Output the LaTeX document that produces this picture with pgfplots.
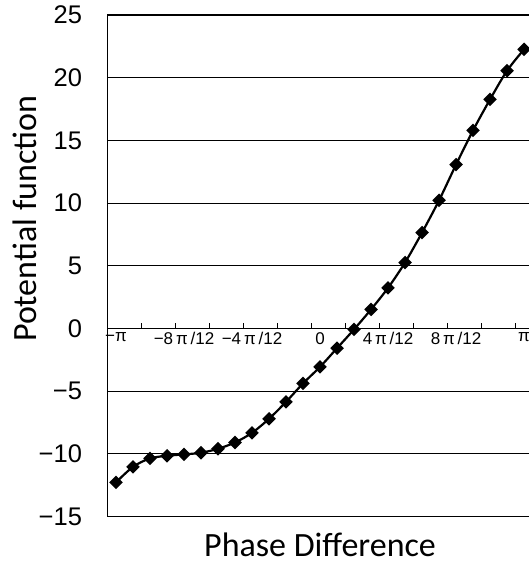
\documentclass[border=0pt]{standalone}
\usepackage{fontspec}
\setmainfont{Liberation Sans}
\newfontfamily\calib{Carlito}
\usepackage{pgfplots}
\pgfplotsset{compat=1.18}
\begin{document}
\begin{tikzpicture}
\begin{axis}[
  scale only axis, width=421.5pt, height=501.6pt,
  xmin=-0.5, xmax=24.29, ymin=-15, ymax=25,
  clip=false,
  axis x line=middle, axis y line=left,
  x axis line style={-, line width=1pt},
  y axis line style={-, line width=1.3pt},
  tick align=inside, major tick length=5pt,
  tick style={black, line width=1pt},
  xtick={1.5,3.5,...,23.5},
  xticklabels={},
  extra x ticks={0,4,...,24},
  extra x tick labels={−π, −8\,π\,/12, −4\,π\,/12, 0, 4\,π\,/12, 8\,π\,/12, π},
  extra x tick style={major tick length=0pt, grid=none},
  xticklabel style={font=\fontsize{17}{17}\selectfont, anchor=north, yshift=-0.5pt},
  ytick={-15,-10,...,25},
  yticklabels={−15,−10,−5,0,5,10,15,20,25},
  yticklabel style={font=\fontsize{25.5}{25.5}\selectfont, xshift=-22pt},
  ymajorgrids, grid style={black, line width=0.8pt},
  xlabel={Phase Difference},
  xlabel style={at={(axis cs:12,-18.19)}, anchor=base, font=\calib\fontsize{34}{34}\selectfont},
  ylabel={Potential function},
  ylabel style={at={(axis cs:-4.647,8.75)}, anchor=base, rotate=0, font=\calib\fontsize{34}{34}\selectfont},
]
\addplot[black, line width=2.2pt, smooth, mark=square*, mark size=3.7pt, mark options={rotate=45, solid, fill=black}]
coordinates {
(0,-12.27) (1,-11.03) (2,-10.36) (3,-10.15) (4,-10.04) (5,-9.91) (6,-9.59)
(7,-9.09) (8,-8.32) (9,-7.20) (10,-5.85) (11,-4.38) (12,-3.06) (13,-1.57)
(14,-0.07) (15,1.52) (16,3.24) (17,5.26) (18,7.65) (19,10.22) (20,13.07)
(21,15.80) (22,18.27) (23,20.56) (24,22.26)
};
\draw[line width=1.3pt] (axis cs:-0.5,25) -- (axis cs:24.29,25);
\draw[line width=1.3pt] (axis cs:-0.5,-15) -- (axis cs:24.29,-15);
\coordinate (BL) at (axis cs:-0.5,-15);
\coordinate (TR) at (axis cs:24.29,25);
\end{axis}
\pgfresetboundingbox
\path ([xshift=-107.5pt, yshift=-50.4pt]BL) rectangle ([yshift=15pt]TR);
\end{tikzpicture}
\end{document}
